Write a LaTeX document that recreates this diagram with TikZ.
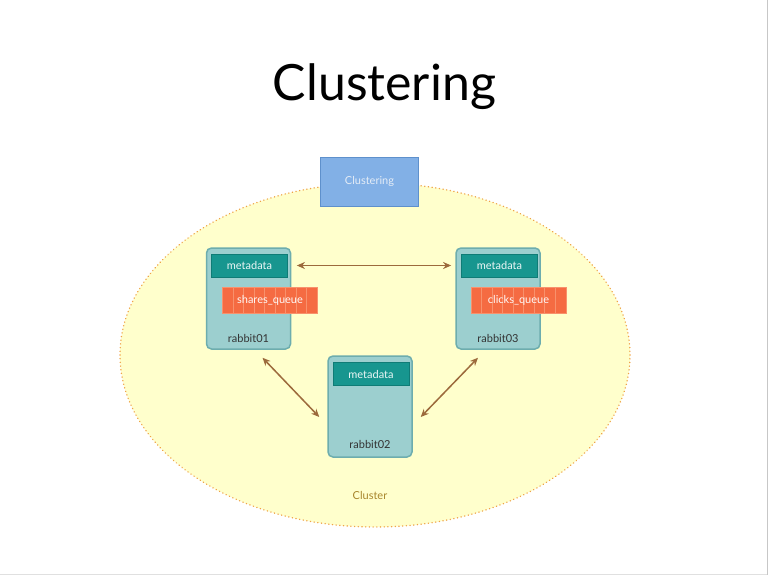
\documentclass[tikz,border=0pt]{standalone}
\usepackage{fontspec}
\setmainfont{Lato}
\usetikzlibrary{arrows.meta, positioning, shapes.geometric}
\definecolor{clYellow}{HTML}{FFFFCC}
\definecolor{clDot}{HTML}{EFA348}
\definecolor{clText}{HTML}{A8862C}
\definecolor{headFill}{HTML}{82B0E6}
\definecolor{headEdge}{HTML}{5E90CC}
\definecolor{headText}{HTML}{E4ECF6}
\definecolor{brokerFill}{HTML}{9CCFCF}
\definecolor{brokerEdge}{HTML}{6DADAE}
\definecolor{metaFill}{HTML}{17968F}
\definecolor{metaEdge}{HTML}{0F7C76}
\definecolor{queueFill}{HTML}{F56B42}
\definecolor{queueLine}{HTML}{F8916C}
\definecolor{linkBrown}{HTML}{9C6A3C}
\tikzset{
  clusterarea/.style = {ellipse, draw=clDot, line width=1.5pt, line cap=round,
                        dash pattern=on 0.1pt off 3.6pt, fill=clYellow,
                        minimum width=510pt, minimum height=344pt, inner sep=0pt},
  headbox/.style     = {draw=headEdge, fill=headFill, line width=1pt, minimum width=98pt,
                        minimum height=49pt, text=headText, font=\fontsize{11}{13}\selectfont},
  brokerbox/.style   = {draw=brokerEdge, fill=brokerFill, rounded corners=5pt, line width=1.5pt,
                        minimum width=84pt, minimum height=101pt, inner sep=0pt},
  metabox/.style     = {draw=metaEdge, fill=metaFill, line width=0.8pt, minimum width=76pt,
                        minimum height=23pt, inner sep=0pt, text=white!92!metaFill,
                        font=\fontsize{11}{13}\selectfont},
  queuebox/.style    = {draw=queueLine, fill=queueFill, line width=0.8pt, minimum width=95pt,
                        minimum height=26pt, inner sep=0pt, text=white!95!queueFill,
                        font=\fontsize{11}{13}\selectfont,
                        path picture={\foreach \i in {1,...,8}
                          \draw[queueLine, line width=0.5pt]
                            ([xshift=\i*10.5pt]path picture bounding box.south west) --
                            ([xshift=\i*10.5pt]path picture bounding box.north west);}},
  nodelbl/.style     = {font=\fontsize{11}{13}\selectfont, text=black!80},
  link/.style        = {{Stealth[length=8pt,width=7pt]}-{Stealth[length=8pt,width=7pt]},
                        draw=linkBrown, line width=1.5pt},
}
\begin{document}
\begin{tikzpicture}[x=1pt,y=-1pt]
  \useasboundingbox (0,0) rectangle (768,575);
  \fill[white] (0,0) rectangle (768,575);
  \draw[black!22, line width=1pt] (767.5,0) -- (767.5,575);
  \draw[black!12, line width=1pt] (0,574.5) -- (767,574.5);
  % title
  \node[font=\fontsize{50}{54}\selectfont] (title) at (384.5,87) {Clustering};
  % cluster area
  \node[clusterarea] (area) at (375,355) {};
  \node[headbox] (head) at (369.5,181.5) {Clustering};
  \node[text=clText, font=\fontsize{11}{13}\selectfont] (cl) at (370,495) {Cluster};
  % brokers
  \node[brokerbox] (r1) at (248.5,298.5) {};
  \node[metabox] (m1) at (249.5,265.5) {metadata};
  \node[queuebox] (q1) at (270,300) {shares\_queue};
  \node[nodelbl] (l1) at ([yshift=11pt]r1.south) {rabbit01};
  \node[brokerbox] (r3) at (498,298.5) {};
  \node[metabox] (m3) at (499.5,265.5) {metadata};
  \node[queuebox] (q3) at (518.5,300) {clicks\_queue};
  \node[nodelbl] (l3) at ([yshift=11pt]r3.south) {rabbit03};
  \node[brokerbox] (r2) at (370,406.5) {};
  \node[metabox] (m2) at (371,374) {metadata};
  \node[nodelbl] (l2) at ([yshift=13pt]r2.south) {rabbit02};
  % links
  \draw[link, shorten <=9pt, shorten >=10pt] (m1.east) -- (m3.west);
  \draw[link] ([xshift=14pt,yshift=-8pt]r1.south) -- ([xshift=-8pt,yshift=-10.5pt]r2.west);
  \draw[link] ([xshift=-20pt,yshift=-8pt]r3.south) -- ([xshift=8pt,yshift=-10.5pt]r2.east);
\end{tikzpicture}
\end{document}
